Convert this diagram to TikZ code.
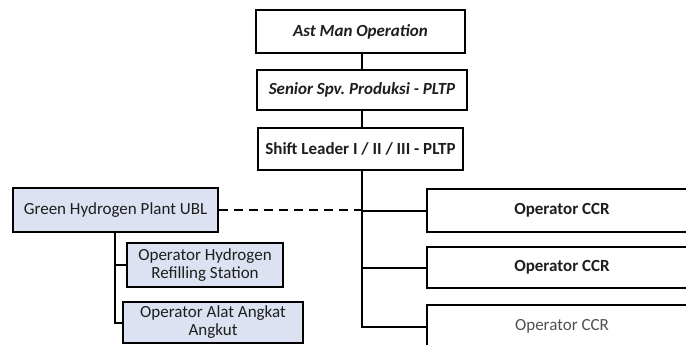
\documentclass[tikz,border=0pt]{standalone}
\usepackage{fontspec}
\setmainfont{Carlito}
\definecolor{bluefill}{RGB}{220,226,241}
\definecolor{txt}{RGB}{30,30,30}
\definecolor{greytxt}{RGB}{80,80,80}
\newcommand{\fsz}{\fontsize{17}{18}\selectfont}
\begin{document}
\begin{tikzpicture}[x=1pt,y=-1pt,
  box/.style={draw=black,line width=2.2pt,fill=white,inner sep=2pt,align=center,font=\fsz,text=txt},
  bluebox/.style={box,fill=bluefill},
  conn/.style={line width=2pt,draw=black}]
\useasboundingbox (0,0) rectangle (686,345);
\clip (0,0) rectangle (686,345);
\coordinate (T) at (362,170);
\coordinate (S) at (115,232);
\node[box,minimum width=209pt,minimum height=43pt,font=\fsz\bfseries\itshape] (A) at (360.5,31.5) {Ast Man Operation};
\node[box,minimum width=210pt,minimum height=40pt,font=\fsz\bfseries\itshape] (B) at (362,90) {Senior Spv.\ Produksi - PLTP};
\node[box,minimum width=205pt,minimum height=42pt,font=\fsz\bfseries] (C) at (360.5,149) {Shift Leader I / II / III - PLTP};
\node[bluebox,minimum width=205pt,minimum height=44pt] (G) at (115.5,210) {Green Hydrogen Plant UBL};
\node[bluebox,minimum width=156pt,minimum height=44pt] (H1) at (205,265) {Operator Hydrogen\\Refilling Station};
\node[bluebox,minimum width=180pt,minimum height=41pt] (H2) at (213,322.5) {Operator Alat Angkat\\Angkut};
\node[box,minimum width=270pt,minimum height=43pt,font=\fsz\bfseries] (O1) at (562,210.5) {Operator CCR};
\node[box,minimum width=270pt,minimum height=41pt,font=\fsz\bfseries] (O2) at (562,267.5) {Operator CCR};
\node[box,minimum width=270pt,minimum height=43pt,text=greytxt] (O3) at (562,326.5) {Operator CCR};
\draw[conn] (A.south -| T) -- (B.north -| T);
\draw[conn] (B.south -| T) -- (C.north -| T);
\draw[conn] (C.south -| T) |- (O3.west);
\draw[conn] (T |- O1.west) -- (O1.west);
\draw[conn] (T |- O2.west) -- (O2.west);
\draw[conn,dash pattern=on 9pt off 6pt] (G.east) -- (T |- G.east);
\draw[conn] (G.south -| S) |- (H2.west);
\draw[conn] (S |- H1.west) -- (H1.west);
\end{tikzpicture}
\end{document}
